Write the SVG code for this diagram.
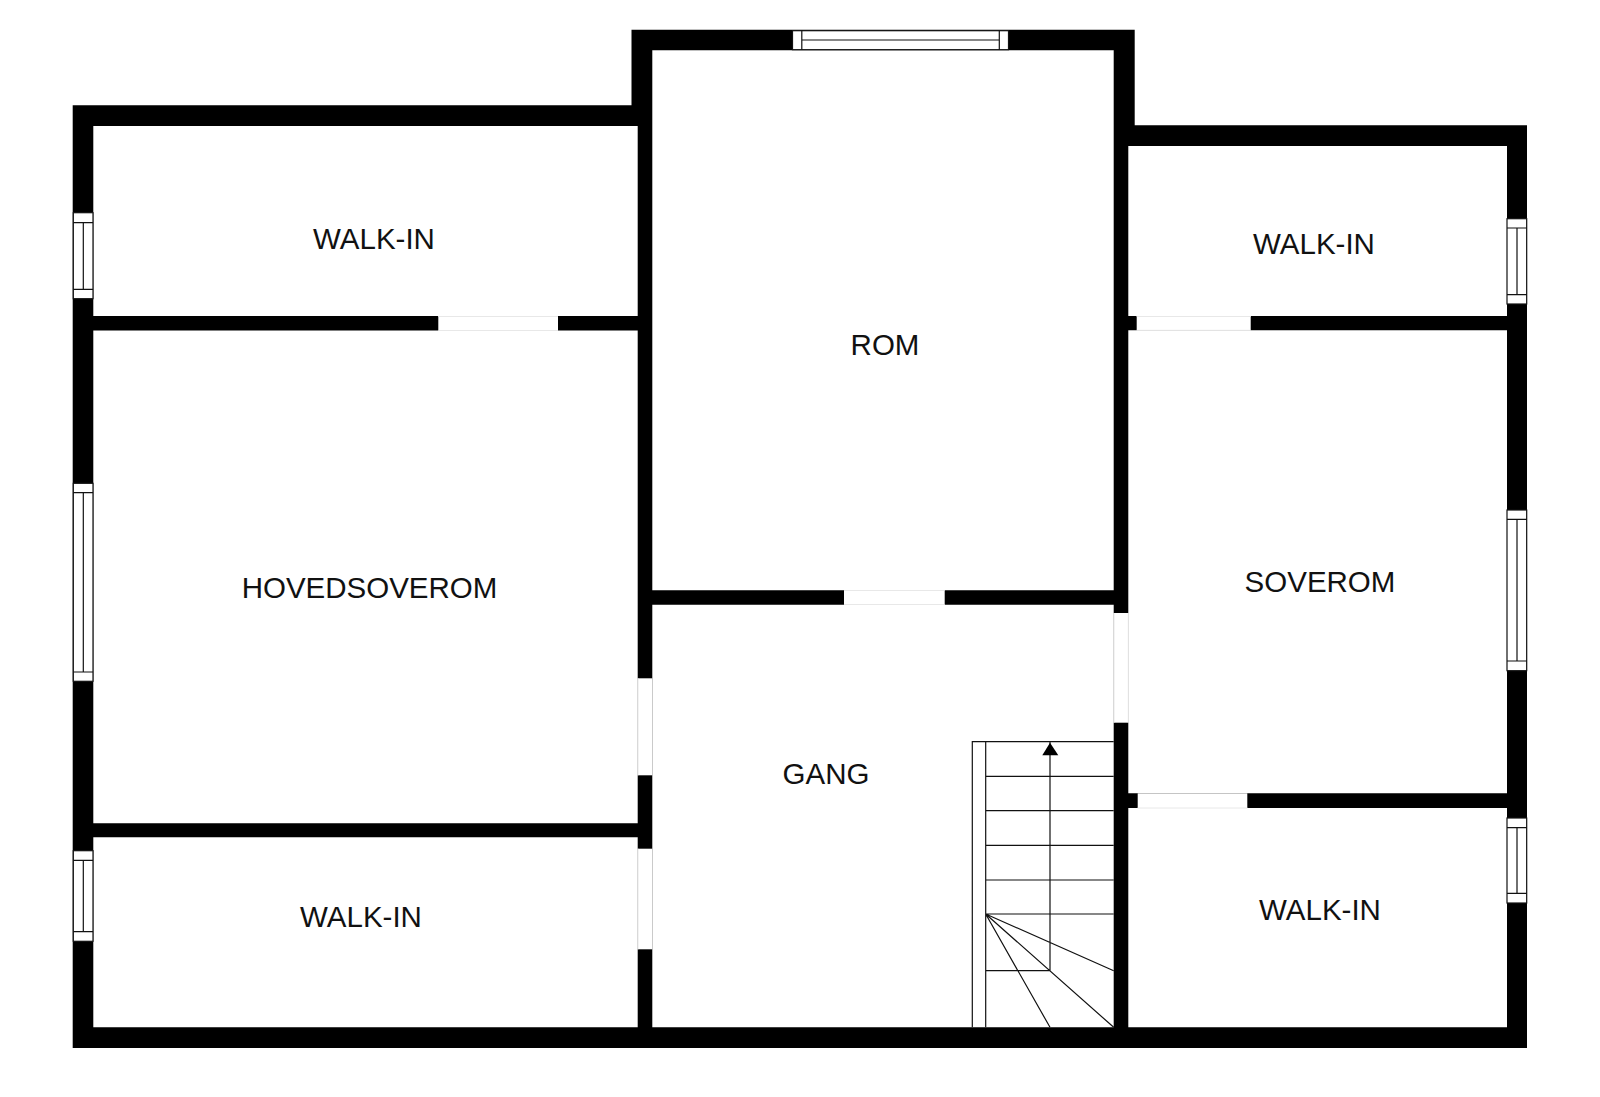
<svg xmlns="http://www.w3.org/2000/svg" width="1600" height="1097" viewBox="0 0 1600 1097">
<style>
.w{fill:#000}
.win{fill:#fff;stroke:#111;stroke-width:1.2}
.s{stroke:#111;stroke-width:1.2;fill:none}
.d{fill:#fff}
.e{stroke:#e8e8e8;stroke-width:1;fill:none}
text{font-family:"Liberation Sans",Arial,sans-serif;font-size:29.5px;fill:#111;text-anchor:middle}
</style>
<rect width="1600" height="1097" fill="#fff"/>
<g id="walls">
<path class="w" fill-rule="evenodd" d="M631.5 29.7H1134.7V125.3H1527V1048H72.7V105.3H631.5Z M652.3 50.3V590.3H1113.7V50.3Z M93.3 126V316H637.7V126Z M93.3 330.5V823.3H637.7V330.5Z M93.3 837.3V1027.3H637.7V837.3Z M652.3 604.7V1027.3H1113.7V604.7Z M1128.3 146V316H1507V146Z M1128.3 330.3V793.3H1507V330.3Z M1128.3 808V1027.3H1507V808Z"/>
</g>
<g id="doors">
<rect class="d" x="438.300" y="316" width="119.700" height="14.500"/><path class="e" d="M438.300 316.500H558M438.300 330.500H558"/>
<rect class="d" x="844" y="590.300" width="100.700" height="14.400"/><path class="e" d="M844 590.500H944.700M844 604.500H944.700"/>
<rect class="d" x="637.700" y="678.300" width="14.600" height="97"/><path class="e" d="M638 678.300V775.300"/>
<rect class="d" x="637.700" y="848.700" width="14.600" height="100.600"/><path class="e" d="M638 848.700V949.300"/>
<rect class="d" x="1113.700" y="613" width="14.600" height="109.700"/><path class="e" d="M1114 613V722.700M1128.300 613V722.700"/>
<rect class="d" x="1136.700" y="316" width="114" height="14.300"/><path class="e" d="M1136.700 316.500H1250.700M1136.700 330.300H1250.700"/>
<rect class="d" x="1137.700" y="793.300" width="109.600" height="14.700"/><path class="e" d="M1137.700 808H1247.300"/>
</g>
<g id="windows">
<g id="window-top"><rect class="win" x="792.500" y="30.700" width="216" height="19"/><path class="s" d="M801.800 30.700V49.700M999.300 30.700V49.700M801.800 40H999.300"/></g>
<g id="window-left-1"><rect class="win" x="73.300" y="212.700" width="19.700" height="86"/><path class="s" d="M73.300 222.700H93M73.300 289.300H93M83.300 222.700V289.300"/></g>
<g id="window-left-2"><rect class="win" x="73.300" y="483.300" width="19.700" height="198"/><path class="s" d="M73.300 492.700H93M73.300 672H93M83.300 492.700V672"/></g>
<g id="window-left-3"><rect class="win" x="73.300" y="850.700" width="19.700" height="90.600"/><path class="s" d="M73.300 860.300H93M73.300 931.700H93M83.300 860.300V931.700"/></g>
<g id="window-right-1"><rect class="win" x="1507" y="218.700" width="19.700" height="85.300"/><path class="s" d="M1507 228H1526.700M1507 294.700H1526.700M1517 228V294.700"/></g>
<g id="window-right-2"><rect class="win" x="1507" y="510" width="19.700" height="160.700"/><path class="s" d="M1507 519.300H1526.700M1507 661H1526.700M1517 519.300V661"/></g>
<g id="window-right-3"><rect class="win" x="1507" y="818" width="19.700" height="85"/><path class="s" d="M1507 827.700H1526.700M1507 893.300H1526.700M1517 827.700V893.300"/></g>
</g>
<g id="stairs">
<path class="s" d="M972.300 1027.300V741.700H1113.700M985.700 741.700V1027.300M985.700 776.300H1113.700M985.700 810.700H1113.700M985.700 845.300H1113.700M985.700 880H1113.700M985.700 914H1113.700M985.700 970.700H1050V741.700M985.700 914L1113.700 970.700M985.700 914L1113.700 1027.300M985.700 914L1050 1027.300"/>
<path d="M1050 742.700L1058.300 755.300H1042.300Z" fill="#000"/>
</g>
<g id="room-walkin-1"><text x="374" y="249">WALK-IN</text></g>
<g id="room-hovedsoverom"><text x="369.500" y="598">HOVEDSOVEROM</text></g>
<g id="room-walkin-2"><text x="361" y="927">WALK-IN</text></g>
<g id="room-rom"><text x="885" y="355">ROM</text></g>
<g id="room-gang"><text x="826" y="784">GANG</text></g>
<g id="room-walkin-3"><text x="1314" y="254">WALK-IN</text></g>
<g id="room-soverom"><text x="1320" y="592">SOVEROM</text></g>
<g id="room-walkin-4"><text x="1320" y="920">WALK-IN</text></g>
</svg>
